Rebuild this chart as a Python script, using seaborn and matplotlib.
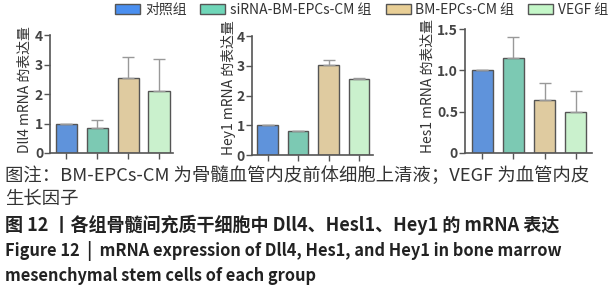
import numpy as np
import pandas as pd
import matplotlib
matplotlib.use("Agg")
import matplotlib.pyplot as plt
import seaborn as sns
from matplotlib.patches import Patch

sns.set_style("ticks")
plt.rcParams["font.family"] = ["Noto Sans CJK SC", "DejaVu Sans"]

# ----------------------------------------------------------
# DATOS
# ----------------------------------------------------------

grupos = ["对照组", "siRNA-BM-EPCs-CM 组", "BM-EPCs-CM 组", "VEGF 组"]
colores = ["#4a8ff0", "#6fd6b8", "#e9cf96", "#c4f7c8"]

dll4_media = [1.00, 0.85, 2.55, 2.10]
dll4_sd = [0.00, 0.26, 0.70, 1.10]

hey1_media = [1.00, 0.80, 3.02, 2.56]
hey1_sd = [0.00, 0.02, 0.16, 0.04]

hes1_media = [1.00, 1.15, 0.64, 0.50]
hes1_sd = [0.00, 0.26, 0.21, 0.25]

paneles = [
    ("Dll4 mRNA 的表达量", dll4_media, dll4_sd, [0, 1, 2, 3, 4], ["0", "1", "2", "3", "4"]),
    ("Hey1 mRNA 的表达量", hey1_media, hey1_sd, [0, 1, 2, 3, 4], ["0", "1", "2", "3", "4"]),
    ("Hes1 mRNA 的表达量", hes1_media, hes1_sd, [0, 0.5, 1.0, 1.5], ["0", "0.5", "1.0", "1.5"]),
]

posiciones = [
    [0.082, 0.490, 0.201, 0.393],
    [0.412, 0.483, 0.198, 0.397],
    [0.761, 0.490, 0.208, 0.413],
]

xlims = [(-0.52, 3.45), (-0.52, 3.45), (-0.56, 3.53)]
label_x = [-0.15, -0.13, -0.235]

# ----------------------------------------------------------
# FIGURA
# ----------------------------------------------------------

fig = plt.figure(figsize=(6.11, 3.0), dpi=100)

for (ylabel, media, sd, yt, ytl), pos, xl, lx in zip(paneles, posiciones, xlims, label_x):
    ax = fig.add_axes(pos)
    df = pd.DataFrame({"grupo": grupos, "valor": media})
    sns.barplot(data=df, x="grupo", y="valor", hue="grupo", palette=colores,
                width=0.68, edgecolor="#555555", linewidth=1.0, legend=False, ax=ax)
    x = np.arange(len(grupos))
    ax.errorbar(x, media, yerr=[np.zeros(len(sd)), sd], fmt="none",
                ecolor="#999999", elinewidth=1.0, capsize=4, capthick=1.0)
    ax.set_xlim(*xl)
    ax.set_ylim(0, yt[-1])
    ax.set_yticks(yt)
    ax.set_yticklabels(ytl, fontsize=10, color="#444444", fontweight="bold")
    ax.set_xticks(x)
    ax.set_xticklabels([])
    ax.set_xlabel("")
    ax.set_ylabel(ylabel, fontsize=10, color="#333333", loc="bottom")
    ax.yaxis.set_label_coords(lx, 0.0)
    ax.tick_params(axis="both", length=4, width=1, color="#555555", pad=1)
    for s in ["left", "bottom"]:
        ax.spines[s].set_color("#555555")
        ax.spines[s].set_linewidth(1.2)
    sns.despine(ax=ax)

handles = [Patch(facecolor=c, edgecolor="#555555", linewidth=1.0) for c in colores]
fig.legend(handles, grupos, loc="center", bbox_to_anchor=(0.592, 0.966), ncol=4,
           frameon=False, fontsize=10, handlelength=1.8, handleheight=0.75,
           columnspacing=1.0, handletextpad=0.35, labelcolor="#333333")

# ----------------------------------------------------------
# TEXTO
# ----------------------------------------------------------

fig.text(0.008, 0.415, "图注：BM-EPCs-CM 为骨髓血管内皮前体细胞上清液；VEGF 为血管内皮",
         fontsize=13.2, color="#333333", va="center")
fig.text(0.008, 0.338, "生长因子", fontsize=13.2, color="#333333", va="center")
fig.text(0.008, 0.250, "图 12 丨各组骨髓间充质干细胞中 Dll4、Hesl1、Hey1 的 mRNA 表达",
         fontsize=13, color="#222222", fontweight="bold", va="center")
fig.text(0.008, 0.162, "Figure 12  |  mRNA expression of Dll4, Hes1, and Hey1 in bone marrow",
         fontsize=11.8, color="#222222", fontweight="bold", va="center")
fig.text(0.008, 0.080, "mesenchymal stem cells of each group",
         fontsize=11.8, color="#222222", fontweight="bold", va="center")

plt.savefig("out.png", dpi=100)
plt.close()
